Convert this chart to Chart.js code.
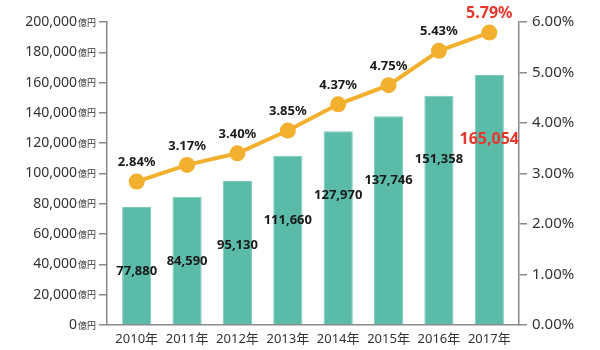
<!DOCTYPE html>
<html><head><meta charset="utf-8">
<script src="https://cdn.jsdelivr.net/npm/chart.js@4"></script>
<style>html,body{margin:0;padding:0;background:#fff}</style>
</head><body>
<canvas id="c" width="600" height="350"></canvas>
<script>
const years = ['2010年','2011年','2012年','2013年','2014年','2015年','2016年','2017年'];
const marketSize = [77880, 84590, 95130, 111660, 127970, 137746, 151358, 165054];
const ratio = [2.84, 3.17, 3.40, 3.85, 4.37, 4.75, 5.43, 5.79];
const leftTicks = [0, 20000, 40000, 60000, 80000, 100000, 120000, 140000, 160000, 180000, 200000];
const rightTicks = [0, 1, 2, 3, 4, 5, 6];

const FONT = '"Noto Sans", "Noto Sans CJK JP", sans-serif';
const AXIS = '#8a8a8a';
const highlight = years.length - 1;

const labelPlugin = {
  id: 'labels',
  afterDraw(chart) {
    const ctx = chart.ctx;
    const ys = chart.scales.y;
    ctx.save();
    ctx.textBaseline = 'middle';
    ctx.textAlign = 'right';
    const unitRight = ys.right - 11;
    ctx.font = '9px ' + FONT;
    const uw = ctx.measureText('億円').width;
    leftTicks.forEach(v => {
      const y = ys.getPixelForValue(v);
      ctx.fillStyle = '#333';
      ctx.font = '9px ' + FONT;
      ctx.fillText('億円', unitRight, y + 1);
      ctx.font = '14px ' + FONT;
      ctx.fillText(v.toLocaleString('en-US'), unitRight - uw - 1, y);
    });
    const barMeta = chart.getDatasetMeta(0);
    barMeta.data.forEach((bar, i) => {
      const isHi = i === highlight;
      ctx.font = (isHi ? 'bold 16px ' : 'bold 13px ') + FONT;
      ctx.fillStyle = isHi ? '#e8382b' : '#1a1a1a';
      ctx.textAlign = 'center';
      ctx.fillText(marketSize[i].toLocaleString('en-US'), bar.x, bar.y + 64);
    });
    const lineMeta = chart.getDatasetMeta(1);
    lineMeta.data.forEach((pt, i) => {
      const isHi = i === highlight;
      ctx.font = (isHi ? 'bold 16px ' : 'bold 13px ') + FONT;
      ctx.fillStyle = isHi ? '#e8382b' : '#1a1a1a';
      ctx.textAlign = 'center';
      ctx.fillText(ratio[i].toFixed(2) + '%', pt.x, pt.y - 19);
    });
    ctx.restore();
  }
};

new Chart(document.getElementById('c'), {
  data: {
    datasets: [
      {
        type: 'bar',
        data: marketSize.map((v, i) => ({ x: i, y: v })),
        yAxisID: 'y',
        backgroundColor: '#5bbba9',
        borderColor: '#7ccbbd',
        borderWidth: 1,
        barPercentage: 0.58,
        categoryPercentage: 1,
        order: 2
      },
      {
        type: 'line',
        data: ratio.map((v, i) => ({ x: i, y: v })),
        yAxisID: 'y2',
        borderColor: '#f3b02f',
        backgroundColor: '#f3b02f',
        borderWidth: 4,
        pointRadius: 8,
        pointBackgroundColor: '#f3b02f',
        pointBorderWidth: 0,
        tension: 0,
        order: 1
      }
    ]
  },
  options: {
    responsive: false,
    animation: false,
    layout: { padding: { top: 22, left: 0, right: 0, bottom: 0 } },
    plugins: { legend: { display: false }, tooltip: { enabled: false } },
    scales: {
      x: {
        type: 'linear',
        offset: false,
        min: -0.59, max: 7.59,
        afterBuildTicks(s) { s.ticks = years.map((_, i) => ({ value: i })); },
        grid: { display: true, drawOnChartArea: false, drawTicks: false, offset: false },
        border: { color: AXIS, width: 1.5 },
        ticks: { color: '#333', font: { size: 13, family: FONT }, padding: 6, callback: v => years[v] },
        afterFit(s) { s.height = 25; }
      },
      y: {
        position: 'left',
        min: 0, max: 200000,
        ticks: { display: false, stepSize: 20000 },
        grid: { drawOnChartArea: false, drawTicks: true, tickLength: 8, color: AXIS, lineWidth: 1.5 },
        border: { color: AXIS, width: 1.5 },
        afterFit(s) { s.width = 107; }
      },
      y2: {
        position: 'right',
        min: 0, max: 6,
        afterBuildTicks(s) { s.ticks = rightTicks.map(v => ({ value: v })); },
        ticks: { color: '#333', font: { size: 15, family: FONT }, padding: 5, callback: v => v.toFixed(2) + '%' },
        grid: { drawOnChartArea: false, drawTicks: true, tickLength: 8, color: AXIS, lineWidth: 1.5 },
        border: { color: AXIS, width: 1.5 },
        afterFit(s) { s.width = 81; }
      }
    }
  },
  plugins: [labelPlugin]
});
</script>
</body></html>
